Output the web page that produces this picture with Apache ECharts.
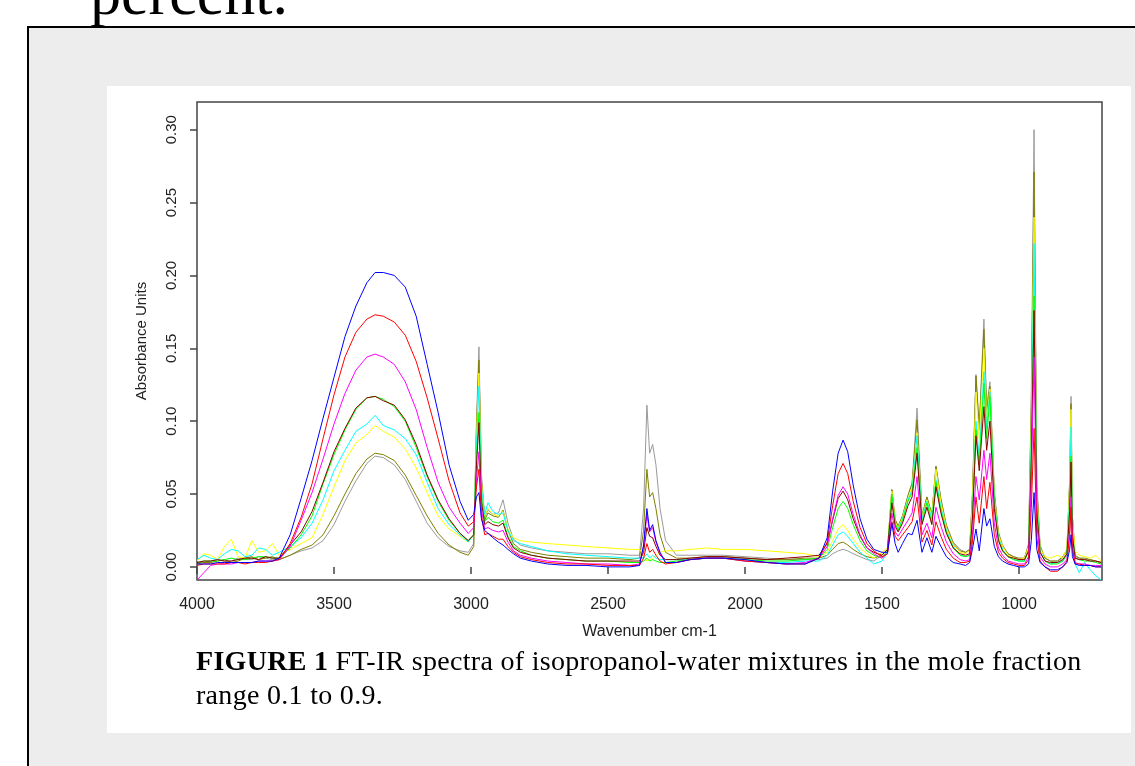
<!DOCTYPE html>
<html>
<head>
<meta charset="utf-8">
<script src="https://cdn.jsdelivr.net/npm/echarts@6/dist/echarts.min.js"></script>
<style>
  html, body { margin: 0; padding: 0; width: 1135px; height: 766px; overflow: hidden; background: #fff; }
  #pageText { position: absolute; left: 90px; top: -38px; font: 62px/62px "Liberation Serif", "Times New Roman", serif; color: #000; white-space: nowrap; }
  #grayBox { position: absolute; left: 27px; top: 26px; width: 1200px; height: 800px; background: #ededed; border-left: 2px solid #000; border-top: 2px solid #000; }
  #panel { position: absolute; left: 107px; top: 86px; width: 1024px; height: 647px; background: #fff; }
  #caption { position: absolute; left: 196px; top: 644px; font: 28px/34px "Liberation Serif", "Times New Roman", serif; letter-spacing: 0.3px; color: #000; white-space: nowrap; z-index: 3; }
  #chart { position: absolute; left: 0; top: 0; width: 1135px; height: 766px; z-index: 2; }
</style>
</head>
<body>
<div id="pageText">percent.</div>
<div id="grayBox"></div>
<div id="panel"></div>
<div id="chart"></div>
<div id="caption"><b>FIGURE 1</b> FT-IR spectra of isopropanol-water mixtures in the mole fraction<br>range 0.1 to 0.9.</div>
<script type="text/javascript">
// wavenumbers (cm-1), shared by every spectrum
var wavenumber = [
  4000, 3975, 3950, 3925, 3900, 3875, 3850, 3825, 3800, 3775, 3750, 3725,
  3700, 3660, 3620,
  3580, 3540, 3500, 3460, 3420, 3380, 3350, 3320, 3280, 3240, 3200, 3160, 3120, 3080, 3040, 3010,
  2990, 2980, 2971, 2962, 2950, 2938, 2920, 2900, 2883, 2865, 2845, 2820, 2780, 2720, 2650, 2580, 2500, 2420,
  2385, 2370, 2358, 2348, 2337, 2325, 2310, 2290,
  2250, 2200, 2140, 2080, 2000, 1920, 1850, 1780,
  1730, 1700, 1680, 1660, 1642, 1625, 1605, 1580, 1555, 1530,
  1500, 1480, 1464, 1452, 1441, 1425, 1405, 1390, 1372, 1354, 1336, 1318, 1303, 1285, 1265, 1240, 1215,
  1195, 1180, 1170, 1157, 1145, 1128, 1118, 1106, 1090, 1075, 1060, 1040, 1020, 1000, 980, 965, 955, 945, 935,
  923, 905, 885, 860, 840, 825, 815, 810, 805, 795, 780, 760, 740, 720, 700
];

// absorbance for each mole fraction
var x01 = [
  0.002, 0.002, 0.002, 0.003, 0.003, 0.003, 0.003, 0.003, 0.003, 0.004, 0.004, 0.004,
  0.006, 0.022, 0.047,
  0.073, 0.102, 0.130, 0.158, 0.179, 0.195, 0.202, 0.202, 0.200, 0.192, 0.172, 0.139, 0.106, 0.070, 0.045, 0.032,
  0.036, 0.048, 0.051, 0.033, 0.025, 0.023, 0.020, 0.017, 0.015, 0.012, 0.009, 0.006, 0.004, 0.002, 0.001, 0.001, 0.000, 0.000,
  0.001, 0.015, 0.040, 0.025, 0.029, 0.018, 0.010, 0.003,
  0.003, 0.005, 0.006, 0.006, 0.005, 0.003, 0.002, 0.002,
  0.006, 0.020, 0.052, 0.078, 0.087, 0.079, 0.056, 0.033, 0.019, 0.012,
  0.010, 0.010, 0.030, 0.016, 0.010, 0.016, 0.023, 0.022, 0.032, 0.010, 0.020, 0.010, 0.021, 0.014, 0.007, 0.003, 0.002,
  0.001, 0.003, 0.012, 0.026, 0.011, 0.040, 0.028, 0.033, 0.014, 0.007, 0.004, 0.002, 0.001, 0.000, 0.000, 0.002, 0.018, 0.051, 0.012,
  0.003, 0.000, -0.002, -0.002, 0.000, 0.003, 0.012, 0.022, 0.007, 0.002, 0.001, 0.001, 0.001, 0.000, 0.000
];
var x02 = [
  0.001, 0.002, 0.002, 0.002, 0.002, 0.003, 0.003, 0.002, 0.003, 0.003, 0.003, 0.004,
  0.005, 0.016, 0.034,
  0.057, 0.088, 0.118, 0.144, 0.161, 0.170, 0.173, 0.172, 0.168, 0.159, 0.141, 0.116, 0.088, 0.059, 0.037, 0.028,
  0.031, 0.055, 0.067, 0.035, 0.022, 0.023, 0.021, 0.019, 0.019, 0.014, 0.010, 0.007, 0.005, 0.003, 0.002, 0.002, 0.001, 0.001,
  0.001, 0.006, 0.016, 0.010, 0.012, 0.008, 0.004, 0.002,
  0.003, 0.005, 0.006, 0.006, 0.004, 0.003, 0.002, 0.002,
  0.006, 0.017, 0.042, 0.064, 0.071, 0.064, 0.045, 0.027, 0.016, 0.011,
  0.007, 0.009, 0.031, 0.021, 0.018, 0.022, 0.027, 0.031, 0.048, 0.017, 0.025, 0.015, 0.031, 0.021, 0.012, 0.006, 0.003,
  0.003, 0.004, 0.017, 0.048, 0.030, 0.062, 0.040, 0.058, 0.022, 0.010, 0.006, 0.003, 0.002, 0.001, 0.001, 0.005, 0.040, 0.095, 0.020,
  0.004, 0.000, -0.003, -0.003, 0.000, 0.004, 0.021, 0.041, 0.012, 0.002, 0.002, 0.001, 0.001, 0.000, 0.000
];
var x03 = [
  -0.009, -0.004, 0.001, 0.002, 0.002, 0.002, 0.003, 0.003, 0.003, 0.004, 0.004, 0.004,
  0.005, 0.014, 0.032,
  0.051, 0.074, 0.098, 0.119, 0.135, 0.144, 0.146, 0.144, 0.139, 0.127, 0.108, 0.082, 0.058, 0.041, 0.030, 0.023,
  0.027, 0.060, 0.079, 0.040, 0.026, 0.027, 0.025, 0.024, 0.025, 0.017, 0.011, 0.008, 0.006, 0.004, 0.003, 0.002, 0.002, 0.001,
  0.002, 0.014, 0.036, 0.024, 0.027, 0.017, 0.009, 0.003,
  0.003, 0.005, 0.006, 0.006, 0.004, 0.003, 0.002, 0.003,
  0.006, 0.014, 0.033, 0.049, 0.055, 0.050, 0.036, 0.022, 0.013, 0.009,
  0.006, 0.009, 0.037, 0.024, 0.021, 0.026, 0.032, 0.037, 0.062, 0.022, 0.030, 0.020, 0.041, 0.028, 0.017, 0.009, 0.005,
  0.004, 0.005, 0.022, 0.062, 0.046, 0.080, 0.060, 0.078, 0.030, 0.013, 0.008, 0.004, 0.003, 0.002, 0.002, 0.007, 0.058, 0.144, 0.030,
  0.007, 0.002, 0.000, 0.000, 0.002, 0.005, 0.025, 0.048, 0.014, 0.003, 0.002, 0.002, 0.001, 0.001, 0.001
];
var x04 = [
  0.003, 0.004, 0.004, 0.005, 0.004, 0.004, 0.005, 0.006, 0.006, 0.005, 0.007, 0.006,
  0.006, 0.015, 0.024,
  0.038, 0.058, 0.079, 0.095, 0.109, 0.116, 0.117, 0.114, 0.111, 0.101, 0.084, 0.063, 0.046, 0.033, 0.023, 0.018,
  0.022, 0.070, 0.099, 0.045, 0.029, 0.031, 0.029, 0.028, 0.030, 0.020, 0.013, 0.010, 0.008, 0.006, 0.005, 0.004, 0.004, 0.004,
  0.004, 0.010, 0.027, 0.021, 0.020, 0.014, 0.008, 0.005,
  0.005, 0.006, 0.007, 0.007, 0.006, 0.005, 0.006, 0.007,
  0.008, 0.016, 0.032, 0.047, 0.052, 0.046, 0.033, 0.021, 0.013, 0.010,
  0.008, 0.012, 0.044, 0.028, 0.024, 0.030, 0.042, 0.048, 0.078, 0.029, 0.041, 0.029, 0.055, 0.037, 0.023, 0.013, 0.009,
  0.008, 0.009, 0.032, 0.090, 0.066, 0.110, 0.080, 0.100, 0.040, 0.018, 0.011, 0.007, 0.006, 0.005, 0.005, 0.011, 0.072, 0.176, 0.038,
  0.010, 0.004, 0.003, 0.003, 0.005, 0.009, 0.038, 0.072, 0.021, 0.006, 0.005, 0.005, 0.004, 0.004, 0.003
];
var x05 = [
  0.003, 0.004, 0.004, 0.004, 0.005, 0.006, 0.005, 0.005, 0.006, 0.007, 0.007, 0.006,
  0.006, 0.013, 0.022,
  0.035, 0.057, 0.077, 0.094, 0.108, 0.116, 0.117, 0.115, 0.110, 0.100, 0.082, 0.062, 0.045, 0.032, 0.023, 0.018,
  0.022, 0.075, 0.106, 0.048, 0.031, 0.034, 0.031, 0.030, 0.032, 0.021, 0.014, 0.011, 0.008, 0.006, 0.005, 0.004, 0.004, 0.003,
  0.003, 0.004, 0.006, 0.004, 0.005, 0.004, 0.003, 0.003,
  0.004, 0.005, 0.006, 0.006, 0.005, 0.004, 0.004, 0.005,
  0.006, 0.012, 0.027, 0.040, 0.045, 0.040, 0.029, 0.018, 0.011, 0.008,
  0.006, 0.011, 0.050, 0.030, 0.025, 0.032, 0.045, 0.051, 0.082, 0.030, 0.044, 0.030, 0.058, 0.039, 0.024, 0.013, 0.008,
  0.007, 0.008, 0.034, 0.094, 0.070, 0.126, 0.088, 0.117, 0.043, 0.019, 0.011, 0.007, 0.005, 0.004, 0.004, 0.011, 0.076, 0.186, 0.040,
  0.010, 0.004, 0.002, 0.002, 0.004, 0.009, 0.040, 0.076, 0.022, 0.006, 0.005, 0.004, 0.004, 0.003, 0.002
];
var x06 = [
  0.005, 0.008, 0.006, 0.005, 0.009, 0.012, 0.011, 0.007, 0.008, 0.013, 0.012, 0.008,
  0.010, 0.014, 0.020,
  0.030, 0.046, 0.066, 0.080, 0.093, 0.098, 0.104, 0.097, 0.094, 0.088, 0.077, 0.058, 0.040, 0.029, 0.022, 0.017,
  0.022, 0.085, 0.124, 0.055, 0.036, 0.044, 0.038, 0.036, 0.037, 0.025, 0.018, 0.016, 0.014, 0.011, 0.009, 0.008, 0.007, 0.006,
  0.006, 0.006, 0.009, 0.006, 0.008, 0.006, 0.005, 0.005,
  0.005, 0.005, 0.006, 0.006, 0.004, 0.003, 0.003, 0.004,
  0.004, 0.008, 0.015, 0.022, 0.024, 0.021, 0.016, 0.010, 0.006, 0.002,
  0.004, 0.010, 0.048, 0.029, 0.026, 0.033, 0.046, 0.053, 0.090, 0.033, 0.045, 0.033, 0.060, 0.041, 0.025, 0.014, 0.008,
  0.007, 0.008, 0.036, 0.100, 0.075, 0.134, 0.095, 0.120, 0.045, 0.020, 0.012, 0.007, 0.005, 0.004, 0.004, 0.012, 0.090, 0.222, 0.046,
  0.011, 0.004, 0.002, 0.003, 0.004, 0.008, 0.048, 0.096, 0.028, 0.002, -0.004, 0.003, -0.002, -0.006, -0.009
];
var x07 = [
  0.004, 0.009, 0.008, 0.005, 0.014, 0.019, 0.007, 0.006, 0.018, 0.010, 0.011, 0.016,
  0.008, 0.012, 0.016,
  0.020, 0.036, 0.055, 0.073, 0.085, 0.091, 0.097, 0.093, 0.089, 0.081, 0.068, 0.051, 0.035, 0.026, 0.021, 0.017,
  0.022, 0.090, 0.133, 0.058, 0.035, 0.040, 0.036, 0.035, 0.038, 0.026, 0.020, 0.018, 0.017, 0.016, 0.015, 0.014, 0.013, 0.012,
  0.012, 0.008, 0.004, 0.005, 0.006, 0.008, 0.010, 0.011,
  0.011, 0.012, 0.013, 0.012, 0.012, 0.011, 0.010, 0.009,
  0.007, 0.010, 0.018, 0.026, 0.029, 0.025, 0.019, 0.013, 0.009, 0.006,
  0.010, 0.013, 0.052, 0.031, 0.027, 0.034, 0.047, 0.055, 0.092, 0.034, 0.046, 0.035, 0.067, 0.044, 0.027, 0.015, 0.010,
  0.009, 0.011, 0.044, 0.120, 0.088, 0.150, 0.100, 0.122, 0.048, 0.022, 0.014, 0.008, 0.006, 0.005, 0.006, 0.014, 0.098, 0.240, 0.050,
  0.013, 0.007, 0.006, 0.008, 0.006, 0.013, 0.055, 0.108, 0.032, 0.011, 0.008, 0.007, 0.006, 0.008, 0.004
];
var x08 = [
  0.002, 0.003, 0.003, 0.004, 0.005, 0.003, 0.004, 0.006, 0.007, 0.005, 0.006, 0.007,
  0.005, 0.008, 0.012,
  0.015, 0.022, 0.035, 0.050, 0.064, 0.074, 0.078, 0.077, 0.073, 0.063, 0.049, 0.035, 0.023, 0.015, 0.010, 0.008,
  0.014, 0.095, 0.142, 0.060, 0.032, 0.037, 0.035, 0.034, 0.039, 0.025, 0.016, 0.012, 0.010, 0.008, 0.007, 0.006, 0.006, 0.005,
  0.006, 0.025, 0.067, 0.048, 0.051, 0.040, 0.022, 0.010,
  0.006, 0.006, 0.007, 0.007, 0.006, 0.005, 0.005, 0.006,
  0.006, 0.008, 0.012, 0.016, 0.017, 0.015, 0.012, 0.009, 0.007, 0.006,
  0.008, 0.012, 0.053, 0.032, 0.028, 0.035, 0.049, 0.057, 0.101, 0.035, 0.048, 0.036, 0.069, 0.046, 0.028, 0.016, 0.011,
  0.010, 0.012, 0.048, 0.131, 0.094, 0.163, 0.106, 0.124, 0.050, 0.023, 0.014, 0.009, 0.007, 0.006, 0.006, 0.015, 0.110, 0.271, 0.055,
  0.014, 0.006, 0.004, 0.004, 0.007, 0.012, 0.058, 0.112, 0.034, 0.008, 0.006, 0.006, 0.005, 0.004, 0.003
];
var x09 = [
  0.003, 0.003, 0.004, 0.005, 0.004, 0.004, 0.006, 0.005, 0.005, 0.007, 0.006, 0.005,
  0.005, 0.008, 0.011,
  0.013, 0.018, 0.029, 0.045, 0.059, 0.071, 0.076, 0.075, 0.070, 0.060, 0.045, 0.030, 0.020, 0.014, 0.011, 0.010,
  0.016, 0.100, 0.151, 0.064, 0.034, 0.039, 0.036, 0.037, 0.046, 0.030, 0.019, 0.015, 0.013, 0.011, 0.010, 0.009, 0.009, 0.008,
  0.008, 0.040, 0.111, 0.078, 0.084, 0.070, 0.040, 0.018,
  0.008, 0.008, 0.008, 0.008, 0.007, 0.006, 0.005, 0.005,
  0.005, 0.006, 0.009, 0.011, 0.012, 0.011, 0.009, 0.007, 0.005, 0.004,
  0.008, 0.012, 0.053, 0.033, 0.028, 0.035, 0.049, 0.058, 0.109, 0.035, 0.048, 0.036, 0.069, 0.047, 0.029, 0.017, 0.012,
  0.010, 0.012, 0.050, 0.132, 0.096, 0.170, 0.110, 0.127, 0.052, 0.024, 0.015, 0.009, 0.007, 0.005, 0.006, 0.016, 0.120, 0.300, 0.060,
  0.015, 0.006, 0.004, 0.004, 0.006, 0.011, 0.060, 0.117, 0.035, 0.007, 0.006, 0.005, 0.005, 0.004, 0.003
];

var xTicks = [4000, 3500, 3000, 2500, 2000, 1500, 1000];
var yTicks = [0, 0.05, 0.10, 0.15, 0.20, 0.25, 0.30];

// drawn from 0.9 up to 0.1 so the blue trace ends on top
var spectra = [
  { name: '0.9', color: '#9a9a9a', values: x09 },
  { name: '0.8', color: '#808000', values: x08 },
  { name: '0.7', color: '#ffff00', values: x07 },
  { name: '0.6', color: '#00ffff', values: x06 },
  { name: '0.5', color: '#00ff00', values: x05 },
  { name: '0.4', color: '#8b0000', values: x04 },
  { name: '0.3', color: '#ff00ff', values: x03 },
  { name: '0.2', color: '#ff0000', values: x02 },
  { name: '0.1', color: '#0000ff', values: x01 }
];

var sansFont = '"Liberation Sans", Arial, sans-serif';
var axisColor = '#444';

var series = spectra.map(function (s) {
  var pts = [];
  for (var i = 0; i < wavenumber.length; i++) {
    pts.push([wavenumber[i], s.values[i]]);
  }
  return {
    name: s.name,
    type: 'line',
    data: pts,
    showSymbol: false,
    clip: true,
    lineStyle: { color: s.color, width: 1 },
    itemStyle: { color: s.color }
  };
});

var chart = echarts.init(document.getElementById('chart'));
var option = {
  animation: false,
  backgroundColor: 'transparent',
  grid: {
    left: 197, top: 102, width: 905, height: 478,
    show: true, backgroundColor: '#fff', borderColor: axisColor, borderWidth: 1.5
  },
  xAxis: {
    type: 'value',
    inverse: true,
    min: 697,
    max: 4000,
    name: 'Wavenumber cm-1',
    nameLocation: 'middle',
    nameGap: 44,
    nameTextStyle: { fontFamily: sansFont, fontSize: 16, color: '#222' },
    axisLine: { show: false },
    splitLine: { show: false },
    axisTick: { show: true, length: 7, customValues: xTicks, lineStyle: { color: axisColor, width: 1.5 } },
    axisLabel: {
      customValues: xTicks, margin: 17, fontFamily: sansFont, fontSize: 16, color: '#222',
      formatter: function (v) { return String(v); }
    }
  },
  yAxis: {
    type: 'value',
    min: -0.009,
    max: 0.319,
    name: 'Absorbance Units',
    nameLocation: 'middle',
    nameRotate: 90,
    nameGap: 48,
    nameTextStyle: { fontFamily: sansFont, fontSize: 15, color: '#222' },
    axisLine: { show: false },
    splitLine: { show: false },
    axisTick: { show: true, length: 7, customValues: yTicks, lineStyle: { color: axisColor, width: 1.5 } },
    axisLabel: {
      customValues: yTicks, rotate: 90, margin: 18,
      fontFamily: sansFont, fontSize: 15, color: '#222',
      formatter: function (v) { return v.toFixed(2); }
    }
  },
  series: series
};
chart.setOption(option);
</script>
</body>
</html>
